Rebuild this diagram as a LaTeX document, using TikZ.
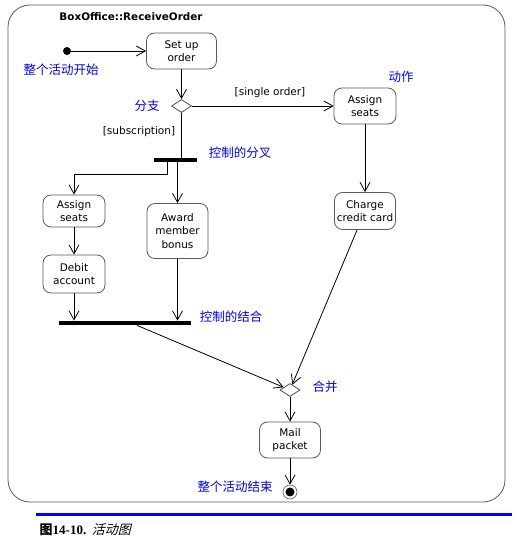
\documentclass[tikz,border=0pt]{standalone}
\usepackage{fontspec}
\setmainfont{DejaVu Sans}
\newfontfamily\cjk{Noto Sans CJK SC}
\newfontfamily\cjkit[FakeSlant=0.25]{Noto Sans CJK SC}
\newfontfamily\capserif{Liberation Serif}
\usetikzlibrary{arrows.meta,shapes.geometric}

\begin{document}
\begin{tikzpicture}[x=1pt, y=1pt, line width=0.8pt,
        >={Straight Barb[length=9pt,width=10pt]},
        action/.style={draw=black!65, rounded corners=8pt, minimum width=61pt, align=center,
                inner sep=0pt, font=\fontsize{10.5}{13.5}\selectfont},
        choice/.style={draw=black!70, diamond, minimum width=20pt, minimum height=13pt, inner sep=0pt},
        bar/.style={fill=black, minimum height=4pt, inner sep=0pt},
        note/.style={text=blue, font=\cjk\fontsize{12.5}{14}\selectfont},
        guard/.style={font=\fontsize{10.5}{12}\selectfont}]
                \path[use as bounding box] (0, 0) rectangle (527, 542);
                \draw[black!65, rounded corners=22pt] (8, 40) rectangle (505, 537);
                \node[font=\bfseries\fontsize{10.4}{12}\selectfont] (title) at (131, 525) {BoxOffice::ReceiveOrder};

                % nodes
                \node[circle, fill, inner sep=0pt, minimum size=8pt] (start) at (67, 491) {};
                \node[action, minimum width=70pt, minimum height=36pt] (setup) at (181.5, 491) {Set up\\order};
                \node[choice] (branch) at (181.5, 436) {};
                \node[action, minimum width=62pt, minimum height=36pt] (seatsR) at (365, 436) {Assign\\seats};
                \node[bar, minimum width=43pt] (fork) at (175.5, 382) {};
                \node[action, minimum width=62pt, minimum height=32pt] (seatsL) at (74, 331) {Assign\\seats};
                \node[action, minimum width=62pt, minimum height=38pt] (debit) at (74, 268) {Debit\\account};
                \node[action, minimum height=55pt] (award) at (177.5, 311) {Award\\member\\bonus};
                \node[bar, minimum width=132pt] (join) at (125, 219) {};
                \node[action, minimum height=37pt] (charge) at (365, 331) {Charge\\credit card};
                \node[choice] (merge) at (290, 152) {};
                \node[action, minimum height=36pt] (mail) at (290, 102) {Mail\\packet};
                \node[circle, draw=black!65, line width=0.6pt, minimum size=14pt, inner sep=0pt] (final) at (290, 50) {};
                \fill (final) circle (4.5);

                % notes
                \node[note] (startnote) at (61, 472) {整个活动开始};
                \node[note] (branchnote) at (147, 436) {分支};
                \node[guard] (single) at (270, 449) {[single order]};
                \node[note] (actnote) at (401, 465) {动作};
                \node[guard] (subs) at (139, 410) {[subscription]};
                \node[note] (forknote) at (240, 389) {控制的分叉};
                \node[note] (joinnote) at (231, 225) {控制的结合};
                \node[note] (mergenote) at (325, 155) {合并};
                \node[note] (endnote) at (235, 55) {整个活动结束};

                % flows
                \draw[->] (start) -- (setup);
                \draw[->] (setup) -- (branch);
                \draw[->] (branch) -- (seatsR);
                \draw (branch) -- (branch |- fork.north);
                \draw[->] ([xshift=-8.5pt]fork.south) -- ++(0, -12) -| (seatsL);
                \draw[->] (award |- fork.south) -- (award);
                \draw[->] (seatsL) -- (debit);
                \draw[->] (debit) -- (debit |- join.north);
                \draw[->] (award) -- (award |- join.north);
                \draw[->] ([xshift=12pt]join.south) -- (merge);
                \draw[->] (seatsR) -- (charge);
                \draw[->] (charge) -- (merge);
                \draw[->] (merge) -- (mail);
                \draw[->] (mail) -- (final);

                % caption
                \draw[blue, line width=3pt] (36, 27) -- (512, 27);
                \node[anchor=west, font=\fontsize{13}{14}\selectfont] (caption) at (36, 12)
                        {{\cjk\bfseries 图}{\capserif\bfseries 14-10.} {\cjkit 活动图}};
        \end{tikzpicture}
\end{document}
